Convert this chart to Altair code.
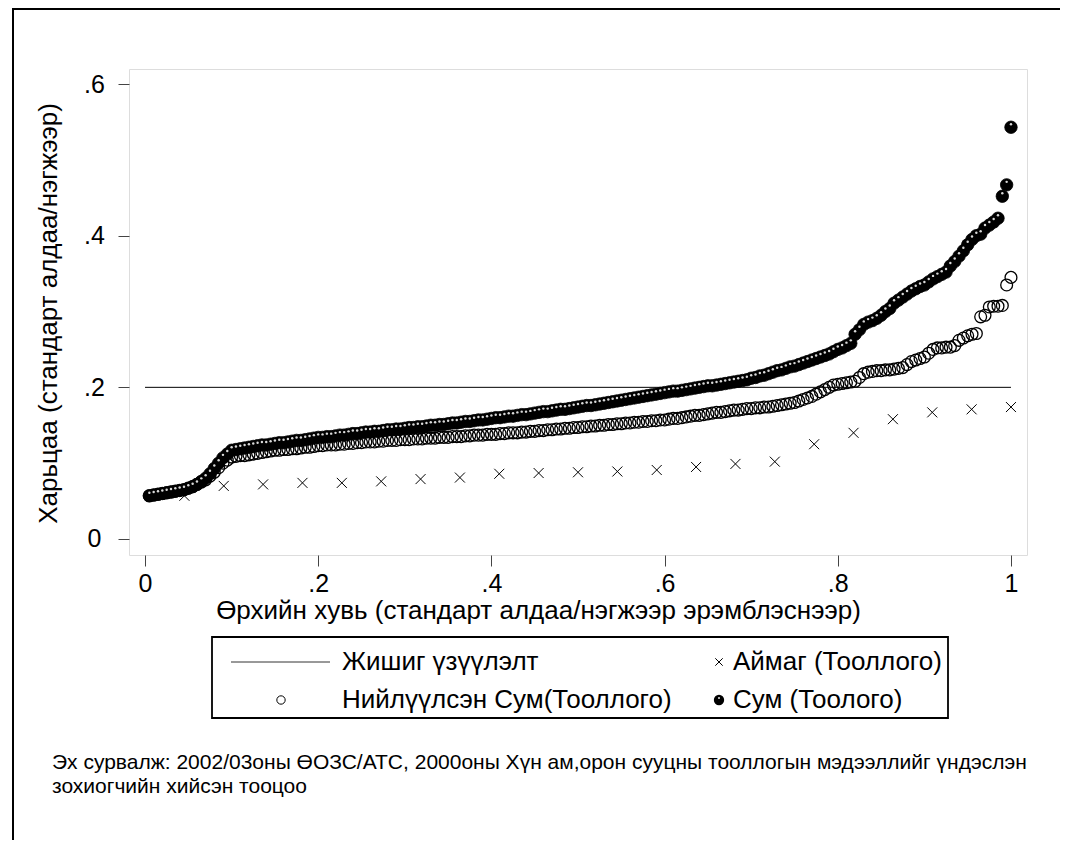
import altair as alt
import pandas as pd

# ---------------- data (ratios in thousandths, sorted ascending) ----------------
sum_vals = [
    57, 58, 59, 60, 61, 62, 63, 64, 65, 67,
    69, 72, 76, 80, 86, 93, 100, 107, 112, 117,
    118, 119, 120, 121, 122, 123, 124, 124, 125, 126,
    127, 127, 128, 129, 130, 130, 131, 132, 133, 134,
    134, 135, 135, 136, 137, 137, 138, 139, 139, 140,
    141, 141, 142, 142, 143, 144, 144, 145, 145, 146,
    147, 147, 148, 148, 149, 150, 150, 151, 151, 152,
    153, 153, 154, 155, 155, 156, 157, 157, 158, 159,
    160, 160, 161, 162, 162, 163, 164, 164, 165, 166,
    167, 168, 168, 169, 170, 171, 171, 172, 173, 174,
    175, 176, 176, 177, 178, 179, 180, 181, 182, 183,
    184, 185, 186, 187, 188, 189, 190, 191, 192, 193,
    194, 195, 195, 196, 197, 198, 199, 200,
    201, 202, 202, 203, 204, 205, 206, 207,
    208, 209, 210, 212,
    213, 215, 216, 218, 220, 222,
    223, 225, 227, 228, 230, 232,
    234, 236, 238, 240,
    242, 244, 247, 250,
    252, 255, 258,
    270, 276,
    283, 286, 288, 291,
    295, 300, 304,
    311, 315, 319,
    323, 327, 330,
    333, 335,
    339, 343, 346,
    349, 352,
    360, 366,
    373, 380,
    388,
    395, 400,
    402, 410, 414, 418, 423,
    452, 467, 543,
]

pooled_vals = [
    57, 58, 59, 60, 61, 62, 63, 64, 65, 67,
    69, 72, 75, 78, 83, 88,
    94, 100, 104, 108,
    109, 110, 110, 111, 112, 113, 114, 115, 116, 117,
    117, 118, 118, 119, 119, 120, 121, 121, 122, 123,
    123, 124, 124, 124, 125, 125, 126, 126, 127, 127,
    128, 128, 128, 129, 129, 130, 130, 130, 131, 131,
    131, 132, 132, 132, 133, 133, 133, 134, 134, 134,
    135, 135, 135, 136, 136, 137, 137, 137, 138, 138,
    138, 139, 139, 140, 140, 140, 141, 141, 142, 142,
    143, 143, 144, 144, 145, 145, 146, 146, 147, 147,
    148, 148, 149, 149, 150, 150, 151, 151, 152, 152,
    153, 153, 154, 154, 155, 155, 156, 156, 157, 157,
    158, 159, 159, 160, 161, 162, 163, 163, 164, 165,
    166, 167, 167, 168, 169, 170, 170, 171, 172, 172,
    173, 173, 174, 174, 175, 176, 177, 178, 179, 180,
    182, 184, 186, 188, 191, 194,
    197, 200, 203, 204,
    205, 206, 207, 208,
    213, 218, 220, 221, 222, 222,
    223, 223, 224, 225, 226, 230,
    234, 236, 238, 240,
    245, 250, 252, 252, 253,
    253, 255, 262,
    265, 268, 270,
    271, 293, 295,
    306, 307, 307, 308,
    335, 345,
]

aimag_vals = [57, 70, 72, 74, 74, 76, 79, 81, 86, 87, 88,
              89, 91, 95, 99, 102, 125, 140, 158, 167, 171, 174]

ref_value = [0.2]
ref_from = [0.0]
ref_to = [1.0]

series_names = ["Жишиг үзүүлэлт", "Аймаг (Тооллого)",
                "Нийлүүлсэн Сум(Тооллого)", "Сум (Тоолого)"]
x_ticks = [0, 0.2, 0.4, 0.6, 0.8, 1]
y_ticks = [0, 0.2, 0.4, 0.6]
x_title = "Өрхийн хувь (стандарт алдаа/нэгжээр эрэмблэснээр)"
y_title = "Харьцаа (стандарт алдаа/нэгжээр)"
note_lines = [
    "Эх сурвалж: 2002/03оны ӨОЗС/АТС, 2000оны Хүн ам,орон сууцны тооллогын мэдээллийг үндэслэн",
    "зохиогчийн хийсэн тооцоо",
]


def ranked(vals, name):
    n = len(vals)
    return pd.DataFrame({
        "share": [(i + 1) / n for i in range(n)],
        "ratio": [v / 1000 for v in vals],
        "series": name,
    })


df_sum = ranked(sum_vals, series_names[3])
df_pool = ranked(pooled_vals, series_names[2])
df_aimag = ranked(aimag_vals, series_names[1])
df_ref = pd.DataFrame({"share": ref_from, "share2": ref_to, "ratio": ref_value})

FONT = "Liberation Sans"
W, H = 898, 486

xs = alt.Scale(domain=[-0.0185, 1.0185], nice=False, zero=False)
ys = alt.Scale(domain=[-0.0211, 0.6198], nice=False, zero=False)

lab_expr = ("datum.value == 0 ? '0' : datum.value == 1 ? '1' : "
            "replace(format(datum.value, '.1f'), '0.', '.')")

x_axis = alt.Axis(values=x_ticks, labelExpr=lab_expr, title=x_title, domain=False,
                  grid=False, tickSize=11, tickColor="#444", tickWidth=1,
                  labelFont=FONT, labelFontSize=25, labelColor="black", labelPadding=5,
                  titleFont=FONT, titleFontSize=26, titleFontWeight="normal",
                  titleColor="black", titleX=409, titleY=55, titleBaseline="middle",
                  titleAlign="center")
y_axis = alt.Axis(values=y_ticks, labelExpr=lab_expr, title=y_title, domain=False,
                  grid=False, tickSize=11, tickColor="#444", tickWidth=1,
                  labelFont=FONT, labelFontSize=25, labelColor="black",
                  labelAlign="center", labelBaseline="middle", labelPadding=24,
                  titleFont=FONT, titleFontSize=26, titleFontWeight="normal",
                  titleColor="black", titleAngle=270, titleX=-81, titleY=244,
                  titleBaseline="middle", titleAlign="center")

X = alt.X("share:Q", scale=xs, axis=x_axis)
Y = alt.Y("ratio:Q", scale=ys, axis=y_axis)

ref_line = alt.Chart(df_ref).mark_rule(color="black", strokeWidth=1).encode(
    x=X, x2="share2:Q", y=Y)

aimag = alt.Chart(df_aimag).mark_point(
    shape="M-1,-1L1,1M-1,1L1,-1", filled=False, color="black", strokeWidth=1,
    size=100, opacity=1).encode(x=X, y=Y)

pooled = alt.Chart(df_pool).mark_point(
    shape="circle", filled=False, color="black", strokeWidth=1.3, size=140,
    opacity=1).encode(x=X, y=Y)

soum = alt.Chart(df_sum).mark_point(
    shape="circle", filled=True, fill="black", stroke="black", strokeWidth=0.8,
    size=155, opacity=1).encode(x=X, y=Y)

soum_glint = alt.Chart(df_sum).mark_circle(
    color="white", size=6, opacity=0.85, yOffset=-3).encode(x=X, y=Y)

# ---------------- frame, legend, note (layout only) ----------------
one = pd.DataFrame({"k": [0]})

frame_top = alt.Chart(one).mark_rule(color="black", strokeWidth=2).encode(
    x=alt.value(-116), x2=alt.value(940), y=alt.value(-60))
frame_left = alt.Chart(one).mark_rule(color="black", strokeWidth=2).encode(
    x=alt.value(-116), y=alt.value(-61), y2=alt.value(900))

leg_box = alt.Chart(one).mark_rect(fill="white", stroke="black", strokeWidth=1.8).encode(
    x=alt.value(83), x2=alt.value(819), y=alt.value(568), y2=alt.value(649))

leg_line = alt.Chart(one).mark_rule(color="#333", strokeWidth=1).encode(
    x=alt.value(102), x2=alt.value(201), y=alt.value(593))
leg_cross = alt.Chart(one).mark_point(
    shape="M-1,-1L1,1M-1,1L1,-1", filled=False, color="black", strokeWidth=1,
    size=55, opacity=1).encode(x=alt.value(590), y=alt.value(593))
leg_ring = alt.Chart(one).mark_point(
    shape="circle", filled=False, color="black", strokeWidth=1, size=70,
    opacity=1).encode(x=alt.value(152), y=alt.value(631))
leg_dot = alt.Chart(one).mark_point(
    shape="circle", filled=True, fill="black", stroke="black", size=70,
    opacity=1).encode(x=alt.value(590), y=alt.value(631))
leg_dot_glint = alt.Chart(one).mark_circle(color="white", size=4, opacity=0.9).encode(
    x=alt.value(590), y=alt.value(629))

leg_pos = [(213, 593), (604, 593), (213, 631), (604, 631)]
leg_texts = []
for name, (lx, ly) in zip(series_names, leg_pos):
    leg_texts.append(
        alt.Chart(pd.DataFrame({"t": [name]})).mark_text(
            font=FONT, fontSize=26, align="left", baseline="middle", color="black"
        ).encode(text="t:N", x=alt.value(lx), y=alt.value(ly)))

note_texts = []
for line, ny in zip(note_lines, [694, 718]):
    note_texts.append(
        alt.Chart(pd.DataFrame({"t": [line]})).mark_text(
            font=FONT, fontSize=21, align="left", baseline="middle", color="black"
        ).encode(text="t:N", x=alt.value(-77), y=alt.value(ny)))

chart = alt.layer(
    frame_top, frame_left, ref_line, aimag, pooled, soum, soum_glint,
    leg_box, leg_line, leg_cross, leg_ring, leg_dot, leg_dot_glint,
    *leg_texts, *note_texts,
).properties(
    width=W, height=H,
    autosize=alt.AutoSizeParams(type="none"),
    padding={"left": 121, "top": 61, "right": 33, "bottom": 285},
    background="white",
).configure_view(
    stroke="black", strokeWidth=2
).configure(font=FONT)

chart.save("out.html", embed_options={"renderer": "svg", "actions": False})
